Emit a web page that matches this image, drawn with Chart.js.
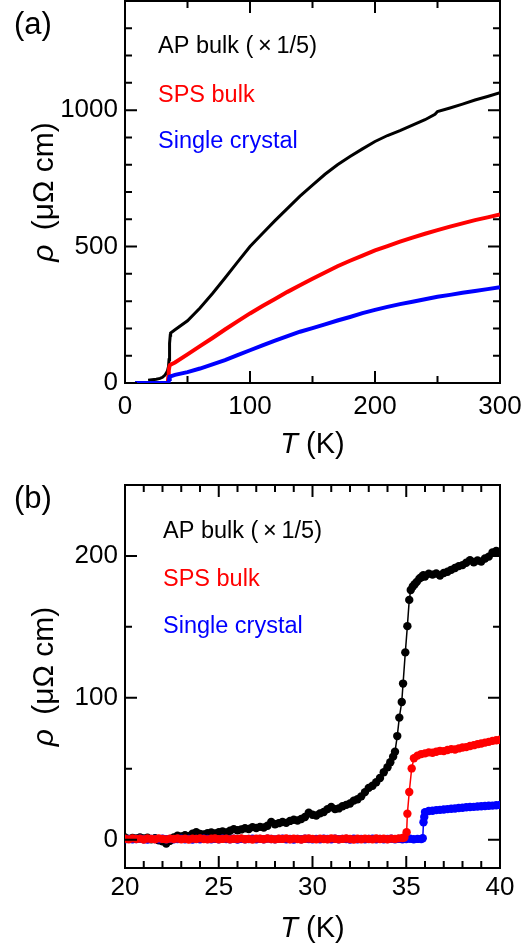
<!DOCTYPE html>
<html>
<head>
<meta charset="utf-8">
<script src="https://cdn.jsdelivr.net/npm/chart.js@4.4.0/dist/chart.umd.min.js"></script>
<style>
  html, body { margin: 0; padding: 0; background: #fff; }
  #wrap { position: relative; width: 526px; height: 951px; }
  canvas { position: absolute; left: 0; }
  #chartA { top: 0; }
  #chartB { top: 465px; }
</style>
</head>
<body>
<div id="wrap">
  <canvas id="chartA" width="526" height="465"></canvas>
  <canvas id="chartB" width="526" height="486"></canvas>
</div>
<script>
var FONT = '"Liberation Sans", Arial, sans-serif';

var seriesNames = ['AP bulk (\u2009\u00d7\u20091/5)', 'SPS bulk', 'Single crystal'];
var seriesColors = ['#000000', '#ff0000', '#0000ff'];

// tick labels (labelled ticks are the long ones)
var xLabelsA = [0, 100, 200, 300];
var yLabelsA = [0, 500, 1000];
var xLabelsB = [20, 25, 30, 35, 40];
var yLabelsB = [0, 100, 200];

// ---- panel (a): 0 - 300 K ----
var tA_ap = [18.5, 20, 25, 28, 30, 32, 33, 34, 34.8, 35.2, 35.5, 35.8, 36.2, 36.5, 40,
  50, 60, 70, 80, 90, 100, 110, 120, 130, 140, 150, 160, 170, 180, 190, 200, 210, 220, 230, 240,
  248, 250, 260, 270, 280, 290, 300];
var rhoA_ap = [10, 11, 14, 17, 21, 29, 36, 45, 60, 85, 110, 145, 175, 183, 195,
  228, 275, 328, 385, 443, 500, 548, 595, 640, 685, 725, 765, 800, 830, 858, 885, 907, 925, 945, 965,
  985, 995, 1008, 1022, 1037, 1050, 1064];

var tA_sps = [10, 20, 30, 34.2, 34.6, 35, 35.5, 36, 40,
  50, 60, 70, 80, 90, 100, 110, 120, 130, 140, 150, 160, 170, 180, 190, 200, 210, 220, 230, 240,
  250, 260, 270, 280, 290, 300];
var rhoA_sps = [0, 0, 0, 0, 20, 45, 60, 66, 75,
  105, 135, 165, 196, 226, 255, 282, 308, 334, 358, 382, 405, 428, 448, 467, 486, 502, 518, 533, 547,
  560, 573, 585, 597, 607, 618];

var tA_sc = [8, 20, 30, 34.8, 35.3, 35.8, 40,
  50, 60, 70, 80, 90, 100, 110, 120, 130, 140, 150, 160, 170, 180, 190, 200, 210, 220, 230, 240,
  250, 260, 270, 280, 290, 300];
var rhoA_sc = [0, 0, 0, 0, 15, 23, 30,
  40, 53, 68, 84, 102, 120, 138, 155, 172, 188, 201, 215, 229, 242, 256, 268, 279, 289, 298, 307,
  316, 323, 331, 337, 344, 351];

// ---- panel (b): 20 - 40 K ----
var tB_ap = [20.0, 20.2, 20.4, 20.6, 20.8, 21.0, 21.2, 21.4, 21.6, 21.8,
  22.0, 22.2, 22.4, 22.6, 22.8, 23.0, 23.2, 23.4, 23.6, 23.8,
  24.0, 24.2, 24.4, 24.6, 24.8, 25.0, 25.2, 25.4, 25.6, 25.8,
  26.0, 26.2, 26.4, 26.6, 26.8, 27.0, 27.2, 27.4, 27.6, 27.8,
  28.0, 28.2, 28.4, 28.6, 28.8, 29.0, 29.2, 29.4, 29.6, 29.8,
  30.0, 30.2, 30.4, 30.6, 30.8, 31.0, 31.2, 31.4, 31.6, 31.8,
  32.0, 32.2, 32.4, 32.6, 32.8, 33.0, 33.2, 33.4, 33.6, 33.8, 34.0,
  34.15, 34.3, 34.4, 34.52, 34.63, 34.76, 34.83, 34.95, 35.06, 35.16, 35.24, 35.35, 35.45, 35.56, 35.7, 35.8, 35.91,
  36.0, 36.2, 36.4, 36.6, 36.8, 37.0, 37.2, 37.4, 37.6, 37.8,
  38.0, 38.2, 38.4, 38.6, 38.8, 39.0, 39.2, 39.4, 39.6, 39.8, 40.0];
var rhoB_ap = [1.5, 0.5, 1.2, 0.8, 1.6, 0.9, 1.4, 0.3, 1.0, -0.5,
  -1.2, -2.8, -0.8, 1.5, 2.8, 2.2, 3.1, 2.5, 4.2, 5.3,
  4.0, 3.6, 4.6, 5.0, 4.4, 5.2, 5.8, 5.1, 6.3, 7.4,
  6.6, 7.2, 8.0, 7.5, 8.8, 8.2, 9.0, 8.6, 9.8, 12.5,
  10.8, 11.6, 12.4, 11.8, 13.2, 14.0, 13.5, 14.5, 16.0, 19.0,
  17.5, 17.0, 18.5, 19.5, 21.5, 23.0, 21.5, 22.0, 23.5, 24.5,
  25.5, 27.5, 28.5, 30.5, 33.5, 36.5, 38.0, 40.5, 43.5, 47.5, 51.0,
  54.5, 58.5, 62, 73, 86, 97, 110, 132, 150.5, 169, 176, 178.5, 180, 181.7, 184, 185, 186.4,
  185.5, 187.5, 186.8, 187.6, 186.2, 188.0, 188.8, 190.2, 191.5, 192.8,
  193.5, 195.2, 197.0, 195.5, 196.8, 196.0, 198.2, 199.5, 202.5, 203.5, 203.0];

var tB_sps = [20.0, 20.2, 20.4, 20.6, 20.8, 21.0, 21.2, 21.4, 21.6, 21.8,
  22.0, 22.2, 22.4, 22.6, 22.8, 23.0, 23.2, 23.4, 23.6, 23.8,
  24.0, 24.2, 24.4, 24.6, 24.8, 25.0, 25.2, 25.4, 25.6, 25.8,
  26.0, 26.2, 26.4, 26.6, 26.8, 27.0, 27.2, 27.4, 27.6, 27.8,
  28.0, 28.2, 28.4, 28.6, 28.8, 29.0, 29.2, 29.4, 29.6, 29.8,
  30.0, 30.2, 30.4, 30.6, 30.8, 31.0, 31.2, 31.4, 31.6, 31.8,
  32.0, 32.2, 32.4, 32.6, 32.8, 33.0, 33.2, 33.4, 33.6, 33.8,
  34.0, 34.2, 34.4, 34.6, 34.8,
  34.9, 35.02, 35.06, 35.16, 35.29, 35.41, 35.6, 35.8,
  36.0, 36.2, 36.4, 36.6, 36.8, 37.0, 37.2, 37.4, 37.6, 37.8,
  38.0, 38.2, 38.4, 38.6, 38.8, 39.0, 39.2, 39.4, 39.6, 39.8, 40.0];
var rhoB_sps = [0.6, 0.2, 0.9, 0.4, 0.7, 0.1, 0.8, 0.5, 0.3, 0.9,
  0.5, 0.2, 0.7, 0.4, 0.8, 0.3, 0.6, 0.1, 0.7, 0.5,
  0.9, 0.4, 0.2, 0.6, 0.8, 0.3, 0.5, 0.7, 0.2, 0.6,
  0.4, 0.9, 0.3, 0.5, 0.1, 0.7, 0.6, 0.3, 0.8, 0.4,
  0.2, 0.6, 0.5, 0.9, 0.3, 0.7, 0.4, 0.1, 0.6, 0.8,
  0.5, 0.2, 0.7, 0.4, 0.3, 0.9, 0.6, 0.2, 0.5, 0.8,
  0.4, 0.1, 0.6, 0.3, 0.7, 0.5, 0.2, 0.8, 0.4, 0.6,
  0.3, 0.7, 0.5, 0.9, 1.2,
  1.5, 5.2, 18.3, 33.6, 50.2, 57.4, 59.2, 60.3,
  60.8, 61.5, 61.2, 62.0, 62.6, 62.4, 63.2, 63.8, 63.5, 64.3,
  64.9, 65.2, 66.0, 66.6, 67.3, 67.8, 68.4, 68.9, 69.6, 70.1, 70.4];

var tB_sc = [20.0, 20.2, 20.4, 20.6, 20.8, 21.0, 21.2, 21.4, 21.6, 21.8,
  22.0, 22.2, 22.4, 22.6, 22.8, 23.0, 23.2, 23.4, 23.6, 23.8,
  24.0, 24.2, 24.4, 24.6, 24.8, 25.0, 25.2, 25.4, 25.6, 25.8,
  26.0, 26.2, 26.4, 26.6, 26.8, 27.0, 27.2, 27.4, 27.6, 27.8,
  28.0, 28.2, 28.4, 28.6, 28.8, 29.0, 29.2, 29.4, 29.6, 29.8,
  30.0, 30.2, 30.4, 30.6, 30.8, 31.0, 31.2, 31.4, 31.6, 31.8,
  32.0, 32.2, 32.4, 32.6, 32.8, 33.0, 33.2, 33.4, 33.6, 33.8,
  34.0, 34.2, 34.4, 34.6, 34.8, 35.0, 35.2, 35.4, 35.6, 35.8,
  35.88, 35.92, 35.96,
  36.0, 36.2, 36.4, 36.6, 36.8, 37.0, 37.2, 37.4, 37.6, 37.8,
  38.0, 38.2, 38.4, 38.6, 38.8, 39.0, 39.2, 39.4, 39.6, 39.8, 40.0];
var rhoB_sc = [0.3, 0.5, 0.2, 0.4, 0.6, 0.3, 0.1, 0.5, 0.4, 0.2,
  0.6, 0.3, 0.5, 0.2, 0.4, 0.7, 0.3, 0.5, 0.1, 0.4,
  0.2, 0.6, 0.4, 0.3, 0.5, 0.2, 0.7, 0.4, 0.3, 0.6,
  0.1, 0.5, 0.3, 0.4, 0.6, 0.2, 0.5, 0.3, 0.7, 0.4,
  0.2, 0.5, 0.6, 0.3, 0.4, 0.1, 0.5, 0.3, 0.6, 0.4,
  0.2, 0.5, 0.3, 0.7, 0.4, 0.2, 0.6, 0.3, 0.5, 0.4,
  0.1, 0.6, 0.3, 0.5, 0.2, 0.4, 0.7, 0.3, 0.5, 0.2,
  0.4, 0.6, 0.3, 0.5, 0.2, 0.4, 0.6, 0.3, 0.5, 0.4,
  1.0, 12.3, 16.0,
  19.4, 20.2, 20.4, 20.8, 21.0, 21.2, 21.5, 21.8, 21.9, 22.3,
  22.5, 22.8, 23.0, 23.1, 23.4, 23.5, 23.7, 23.9, 24.0, 24.2, 24.4];

function pts(xs, ys) {
  return xs.map(function (x, i) { return {x: x, y: ys[i]}; });
}

function makeAxis(pos, min, max, step, labels, size, pad) {
  var mirror = (pos === 'top' || pos === 'right');
  return {
    type: 'linear', position: pos, min: min, max: max,
    ticks: {
      display: !mirror, stepSize: step, autoSkip: false, maxRotation: 0, minRotation: 0,
      includeBounds: false, maxTicksLimit: 100,
      padding: pad, color: '#000', font: {family: FONT, size: 26},
      callback: function (v) { return labels.indexOf(v) >= 0 ? String(v) : ''; }
    },
    grid: {display: false, drawTicks: false},
    border: {display: true, color: '#000', width: 2},
    afterFit: function (s) {
      if (s.isHorizontal()) s.height = size; else s.width = size;
      s.paddingLeft = 0; s.paddingRight = 0; s.paddingTop = 0; s.paddingBottom = 0;
    }
  };
}

// inward tick marks on all four sides at the ticks of the x / y scales,
// drawn last; labelled ticks get the long mark
var inwardTicks = {
  id: 'inwardTicks',
  afterDraw: function (chart) {
    var c = chart.ctx, a = chart.chartArea;
    var sx = chart.scales.x, sy = chart.scales.y;
    c.save();
    c.strokeStyle = '#000';
    c.lineWidth = 2;
    sx.ticks.forEach(function (t) {
      var p = sx.getPixelForValue(t.value);
      var L = t.label !== '' ? 12 : 7;
      c.beginPath();
      c.moveTo(p, a.bottom); c.lineTo(p, a.bottom - L);
      c.moveTo(p, a.top); c.lineTo(p, a.top + L);
      c.stroke();
    });
    sy.ticks.forEach(function (t) {
      var p = sy.getPixelForValue(t.value);
      var L = t.label !== '' ? 12 : 7;
      c.beginPath();
      c.moveTo(a.left, p); c.lineTo(a.left + L, p);
      c.moveTo(a.right, p); c.lineTo(a.right - L, p);
      c.stroke();
    });
    c.restore();
  }
};

function drawMixed(c, parts, size, cx, y) {
  var w = 0;
  parts.forEach(function (p) {
    c.font = p[0] + size + 'px ' + FONT;
    p.w = c.measureText(p[1]).width;
    w += p.w;
  });
  var x = cx - w / 2;
  c.textAlign = 'left';
  parts.forEach(function (p) {
    c.font = p[0] + size + 'px ' + FONT;
    c.fillText(p[1], x, y);
    x += p.w;
  });
}

function decor(o) {
  return {
    id: 'decor',
    afterDraw: function (chart) {
      var c = chart.ctx, a = chart.chartArea;
      c.save();
      c.fillStyle = '#000';
      c.textBaseline = 'alphabetic';
      c.textAlign = 'left';
      c.font = '31px ' + FONT;
      c.fillText(o.tag, 14, o.tagY);
      drawMixed(c, [['italic ', 'T'], ['', ' (K)']], 29, (a.left + a.right) / 2, o.xTitleY);
      c.save();
      c.translate(o.yTitleX, (a.top + a.bottom) / 2);
      c.rotate(-Math.PI / 2);
      drawMixed(c, [['italic ', '\u03c1'], ['', '\u2009 (\u03bc\u03a9 cm)']], 30, 0, 0);
      c.restore();
      c.font = '23.5px ' + FONT;
      c.textAlign = 'left';
      chart.data.datasets.forEach(function (ds, i) {
        c.fillStyle = ds.borderColor;
        c.fillText(ds.label, o.legX, o.legY[i]);
      });
      c.restore();
    }
  };
}

var common = {
  responsive: false,
  animation: false,
  events: [],
  plugins: {legend: {display: false}, tooltip: {enabled: false}}
};

new Chart('chartA', {
  type: 'scatter',
  data: {
    datasets: [{
      label: seriesNames[0], data: pts(tA_ap, rhoA_ap), borderColor: seriesColors[0],
      backgroundColor: seriesColors[0], borderWidth: 3, pointRadius: 0, showLine: true, order: 3
    }, {
      label: seriesNames[1], data: pts(tA_sps, rhoA_sps), borderColor: seriesColors[1],
      backgroundColor: seriesColors[1], borderWidth: 4, pointRadius: 0, showLine: true, order: 2
    }, {
      label: seriesNames[2], data: pts(tA_sc, rhoA_sc), borderColor: seriesColors[2],
      backgroundColor: seriesColors[2], borderWidth: 4, pointRadius: 0, showLine: true, order: 1
    }]
  },
  options: Object.assign({}, common, {
    layout: {padding: {left: 0, right: 26, top: 1, bottom: 0}},
    scales: {
      x: makeAxis('bottom', 0, 300, 50, xLabelsA, 82, 8),
      y: makeAxis('left', 0, 1400, 100, yLabelsA, 125, 7),
      x2: makeAxis('top', 0, 300, 50, xLabelsA, 0, 0),
      y2: makeAxis('right', 0, 1400, 100, yLabelsA, 0, 0)
    }
  }),
  plugins: [inwardTicks, decor({tag: '(a)', tagY: 34, xTitleY: 453, yTitleX: 53,
    legX: 158, legY: [53, 101.5, 148]})]
});

function ptStyle(color, order, data) {
  return {
    data: data, borderColor: color, backgroundColor: color, borderWidth: 1.5,
    pointRadius: 4.2, pointBorderWidth: 0, pointBackgroundColor: color,
    showLine: true, order: order
  };
}

var dsB = [
  Object.assign({label: seriesNames[0]}, ptStyle(seriesColors[0], 3, pts(tB_ap, rhoB_ap))),
  Object.assign({label: seriesNames[1]}, ptStyle(seriesColors[1], 1, pts(tB_sps, rhoB_sps))),
  Object.assign({label: seriesNames[2]}, ptStyle(seriesColors[2], 2, pts(tB_sc, rhoB_sc)))
];

new Chart('chartB', {
  type: 'scatter',
  data: {datasets: dsB},
  options: Object.assign({}, common, {
    layout: {padding: {left: 0, right: 26, top: 20, bottom: 0}},
    scales: {
      x: makeAxis('bottom', 20, 40, 1, xLabelsB, 83, 4),
      y: makeAxis('left', -20, 250, 50, yLabelsB, 125, 7),
      x2: makeAxis('top', 20, 40, 1, xLabelsB, 0, 0),
      y2: makeAxis('right', -20, 250, 50, yLabelsB, 0, 0)
    }
  }),
  plugins: [inwardTicks, decor({tag: '(b)', tagY: 43, xTitleY: 472, yTitleX: 53,
    legX: 163, legY: [73, 121, 167.5]})]
});
</script>
</body>
</html>
